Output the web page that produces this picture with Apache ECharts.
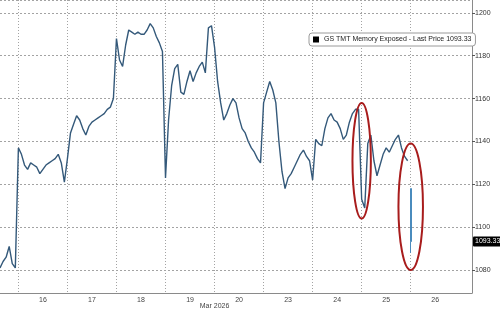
<!DOCTYPE html>
<html>
<head>
<meta charset="utf-8">
<script src="https://cdn.jsdelivr.net/npm/echarts@6/dist/echarts.min.js"></script>
<style>html,body{margin:0;padding:0;background:#fff}#c{width:500px;height:310px}</style>
</head>
<body>
<div id="c"></div>
<script>
// ---- data ----
const seriesName = 'GS TMT Memory Exposed';
const dayLabels = ['13', '16', '17', '18', '19', '20', '23', '24', '25', '26'];
const slotCounts = [6, 16, 16, 16, 16, 16, 16, 16, 16, 21];
const day13 = [1081, 1084, 1086, 1091, 1083, 1081];
const day16 = [1137, 1134, 1129, 1127, 1130, 1129, 1128, 1125, 1127, 1129, 1130, 1131, 1132, 1134, 1130, 1121];
const day17 = [1132, 1144, 1148, 1152, 1150, 1146, 1143, 1147, 1149, 1150, 1151, 1152, 1153, 1155, 1156, 1160];
const day18 = [1188, 1178, 1175, 1185, 1192, 1191, 1190, 1191, 1190, 1190, 1192, 1195, 1193, 1189, 1186, 1182];
const day19 = [1123, 1150, 1166, 1174, 1176, 1163, 1162, 1168, 1173, 1168, 1172, 1175, 1177, 1172, 1193, 1194];
const day20 = [1184, 1168, 1158, 1150, 1153, 1157, 1160, 1158, 1151, 1146, 1144, 1140, 1137, 1135, 1132, 1130];
const day23 = [1158, 1163, 1168, 1164, 1158, 1140, 1126, 1118, 1123, 1125, 1128, 1131, 1134, 1136, 1133, 1131];
const day24 = [1122, 1141, 1139, 1138, 1146, 1151, 1153, 1150, 1149, 1146, 1141, 1143, 1149, 1153, 1155, 1155];
const day25 = [1113, 1109, 1139, 1143, 1131, 1124, 1129, 1134, 1137, 1135, 1138, 1141, 1143, 1137, 1133, 1131];
// final bar of day 26: open, close(last), low, high
const day26Bar = [1118, 1093.33, 1088, 1118];
const lastPrice = 1093.33;
const yTickValues = [1080, 1100, 1120, 1140, 1160, 1180, 1200];
const monthLabel = 'Mar 2026';
// annotation ellipses (category slot index, value top/bottom)
const ellipses = [
  { idx: 118.2, halfSlots: 3.4, top: 1158, bottom: 1104 },
  { idx: 133.8, halfSlots: 3.4, top: 1139, bottom: 1080 }
];

// ---- build ----
const categories = [];
const dayStart = [];
const dayMid = {};
dayLabels.forEach((d, k) => {
  dayStart.push(categories.length);
  if (k > 0) dayMid[categories.length + 8] = d;
  for (let s = 0; s < slotCounts[k]; s++) categories.push(d + '#' + s);
});
const startSet = new Set(dayStart.slice(1));
const values = [].concat(day13, day16, day17, day18, day19, day20, day23, day24, day25);
const lastIdx = dayStart[dayStart.length - 1];

const chart = echarts.init(document.getElementById('c'), null, { renderer: 'canvas' });
const FONT = 'Liberation Sans';
const GRID = '#a3a3a3';
chart.setOption({
  animation: false,
  textStyle: { fontFamily: FONT },
  grid: { left: -1.5, right: 28, top: 0, bottom: 17 },
  legend: {
    data: [{ name: seriesName, icon: 'rect', itemStyle: { color: '#000' } }],
    left: 309, top: 33,
    itemWidth: 6, itemHeight: 6, itemGap: 4,
    backgroundColor: '#fff', borderColor: '#9a9a9a', borderWidth: 1, borderRadius: 3,
    padding: [3, 4, 3, 4],
    textStyle: { fontSize: 7, color: '#222', fontFamily: FONT },
    formatter: n => n + ' - Last Price ' + lastPrice.toFixed(2)
  },
  xAxis: {
    type: 'category',
    data: categories,
    boundaryGap: false,
    axisLine: { lineStyle: { color: '#8a8a8a', width: 1 } },
    axisTick: { show: false },
    axisLabel: {
      interval: (i) => dayMid[i] !== undefined,
      formatter: (v) => v.split('#')[0],
      fontSize: 7, color: '#444', margin: 4, fontFamily: FONT
    },
    splitLine: {
      show: true,
      interval: (i) => startSet.has(i),
      lineStyle: { color: GRID, type: [1, 2], width: 1 }
    }
  },
  yAxis: {
    type: 'value',
    position: 'right',
    min: 1069.3, max: 1206,
    splitNumber: 7,
    axisLine: { show: true, lineStyle: { color: '#8a8a8a' } },
    axisTick: { show: true, length: 3, lineStyle: { color: '#555' } },
    axisLabel: {
      fontSize: 7, color: '#333', margin: 3, fontFamily: FONT,
      showMinLabel: false, showMaxLabel: false,
      formatter: v => (yTickValues.indexOf(v) >= 0 ? String(v) : '')
    },
    splitLine: {
      show: true,
      lineStyle: { color: GRID, type: [2, 2], width: 1 }
    }
  },
  series: [
    {
      name: seriesName,
      type: 'line',
      data: values,
      symbol: 'none',
      z: 3,
      lineStyle: { color: '#34597a', width: 1.4 },
      itemStyle: { color: '#34597a' },
      markLine: {
        silent: true,
        symbol: ['none', 'none'],
        lineStyle: { color: 'rgba(0,0,0,0)', width: 0 },
        data: [{ yAxis: lastPrice }],
        label: {
          show: true, position: 'end', distance: 1,
          formatter: () => lastPrice.toFixed(2),
          backgroundColor: '#000', color: '#fff', fontSize: 7,
          padding: [2, 2, 1, 2], borderRadius: 1, fontFamily: FONT
        }
      }
    },
    {
      name: 'lastBar',
      type: 'candlestick',
      barWidth: 1.5,
      z: 3,
      encode: { x: 0, y: [1, 2, 3, 4] },
      data: [[lastIdx].concat(day26Bar)],
      itemStyle: { color: '#4a8bbd', color0: '#4a8bbd', borderColor: '#4a8bbd', borderColor0: '#4a8bbd', borderWidth: 1 }
    }
  ]
});

// annotations from data coordinates
const g = [];
ellipses.forEach(e => {
  const c = chart.convertToPixel({ xAxisIndex: 0, yAxisIndex: 0 }, [e.idx, (e.top + e.bottom) / 2]);
  const t = chart.convertToPixel({ xAxisIndex: 0, yAxisIndex: 0 }, [e.idx, e.top]);
  const b = chart.convertToPixel({ xAxisIndex: 0, yAxisIndex: 0 }, [e.idx, e.bottom]);
  const l = chart.convertToPixel({ xAxisIndex: 0, yAxisIndex: 0 }, [e.idx - e.halfSlots, e.top]);
  g.push({
    type: 'ellipse',
    shape: { cx: c[0], cy: c[1], rx: Math.abs(c[0] - l[0]), ry: Math.abs(b[1] - t[1]) / 2 },
    style: { fill: null, stroke: '#a81c1c', lineWidth: 2 },
    z: 100
  });
});
const mx = chart.convertToPixel({ xAxisIndex: 0 }, dayStart[5]);
g.push({
  type: 'text', x: mx, y: 306,
  style: { text: monthLabel, fontSize: 7, fill: '#444', align: 'center', verticalAlign: 'middle', fontFamily: FONT },
  z: 100
});
chart.setOption({ graphic: g });
</script>
</body>
</html>
